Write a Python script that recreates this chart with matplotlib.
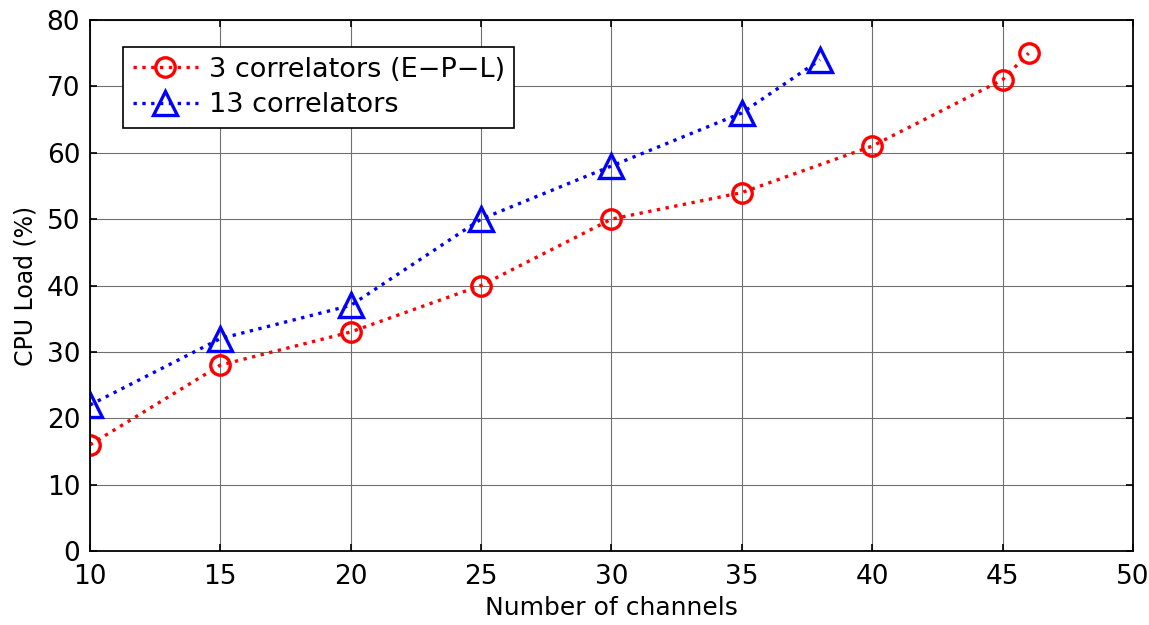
import matplotlib.pyplot as plt

plt.rcParams['font.family'] = ['DejaVu Sans']

channels_3 = [10, 15, 20, 25, 30, 35, 40, 45, 46]
load_3 = [16, 28, 33, 40, 50, 54, 61, 71, 75]
channels_13 = [10, 15, 20, 25, 30, 35, 38]
load_13 = [22, 32, 37, 50, 58, 66, 74]

fig = plt.figure(figsize=(11.49, 6.25), dpi=100)
ax = fig.add_axes([0.0783, 0.1184, 0.9077, 0.8496])

ax.plot(channels_3, load_3, ':', color='red', marker='o', markersize=14,
        markerfacecolor='none', markeredgewidth=2.4, linewidth=2.4,
        label='3 correlators (E\u2212P\u2212L)')
ax.plot(channels_13, load_13, ':', color='blue', marker='^', markersize=17,
        markerfacecolor='none', markeredgewidth=2.4, linewidth=2.4,
        label='13 correlators')

ax.set_xlim(10, 50)
ax.set_ylim(0, 80)
ax.set_xticks(range(10, 51, 5))
ax.set_yticks(range(0, 81, 10))
ax.grid(True, color='#707070', linewidth=0.8)
ax.tick_params(direction='in', top=True, right=True, labelsize=19, length=5, width=1.2)
ax.tick_params(axis='x', pad=9)
ax.tick_params(axis='y', pad=7)
for s in ax.spines.values():
    s.set_linewidth(1.3)

ax.set_xlabel('Number of channels', fontsize=18, labelpad=5)
ax.set_ylabel('CPU Load (%)', fontsize=17, labelpad=7)

leg = ax.legend(loc='upper left', bbox_to_anchor=(0.032, 0.949), borderaxespad=0,
                fontsize=19.5, fancybox=False, edgecolor='black', framealpha=1,
                handlelength=2.4, handletextpad=0.4, borderpad=0.35,
                labelspacing=0.35)
leg.get_frame().set_linewidth(1.2)

plt.savefig('out.png', dpi=100)
